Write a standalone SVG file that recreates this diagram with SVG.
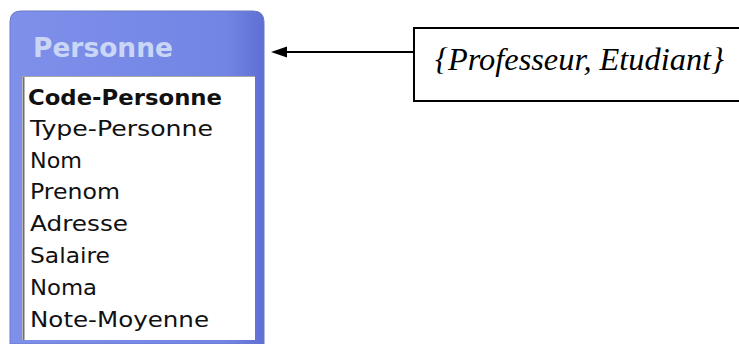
<svg xmlns="http://www.w3.org/2000/svg" width="739" height="344" viewBox="0 0 739 344">
  <defs>
    <linearGradient id="blueGrad" x1="0" y1="0" x2="1" y2="0">
      <stop offset="0" stop-color="#7e90ea"/>
      <stop offset="0.85" stop-color="#7385e4"/>
      <stop offset="1" stop-color="#5f6fd4"/>
    </linearGradient>
    <style>
      .attr { font-family: "DejaVu Sans", "Liberation Sans", sans-serif; font-size: 21px; fill: #111; }
      .key { font-weight: bold; }
      .title { font-family: "DejaVu Sans", "Liberation Sans", sans-serif; font-size: 27px; font-weight: bold; fill: #c9d6f6; }
      .label { font-family: "Liberation Serif", "Times New Roman", serif; font-size: 31px; font-style: italic; fill: #000; }
      .conn { stroke: #000; stroke-width: 2; fill: none; }
      .head { fill: #000; }
    </style>
  </defs>
  <rect width="739" height="344" fill="#fff"/>

  <g id="personne">
    <path d="M10,344 L10,22 Q10,11 21,11 L253,11 Q264,11 264,22 L264,344 Z" fill="url(#blueGrad)" stroke="#6a78c8" stroke-width="1"/>
    <text class="title" x="33" y="57" textLength="140" lengthAdjust="spacingAndGlyphs">Personne</text>
    <rect x="22" y="76" width="233" height="264" fill="#fff"/>
    <line x1="23.5" y1="76" x2="23.5" y2="340" stroke="#6e6e6e" stroke-width="2"/>
    <line x1="22" y1="76.5" x2="255" y2="76.5" stroke="#a8a8a8" stroke-width="1"/>
    <text class="attr key" x="28" y="105" textLength="194" lengthAdjust="spacingAndGlyphs">Code-Personne</text>
    <text class="attr" x="30" y="136" textLength="183" lengthAdjust="spacingAndGlyphs">Type-Personne</text>
    <text class="attr" x="30" y="168" textLength="52" lengthAdjust="spacingAndGlyphs">Nom</text>
    <text class="attr" x="30" y="199" textLength="90" lengthAdjust="spacingAndGlyphs">Prenom</text>
    <text class="attr" x="30" y="231" textLength="98" lengthAdjust="spacingAndGlyphs">Adresse</text>
    <text class="attr" x="30" y="263" textLength="80" lengthAdjust="spacingAndGlyphs">Salaire</text>
    <text class="attr" x="30" y="295" textLength="67" lengthAdjust="spacingAndGlyphs">Noma</text>
    <text class="attr" x="30" y="327" textLength="179" lengthAdjust="spacingAndGlyphs">Note-Moyenne</text>
  </g>

  <g id="types">
    <rect x="414" y="28" width="330" height="73" fill="#fff" stroke="#000" stroke-width="2"/>
    <text class="label" x="435" y="70" textLength="289" lengthAdjust="spacingAndGlyphs">{Professeur, Etudiant}</text>
  </g>

  <g id="connectors">
    <line class="conn" x1="414" y1="52" x2="284" y2="52"/>
    <polygon class="head" points="271,52 287,46.5 287,57.5"/>
  </g>
</svg>
